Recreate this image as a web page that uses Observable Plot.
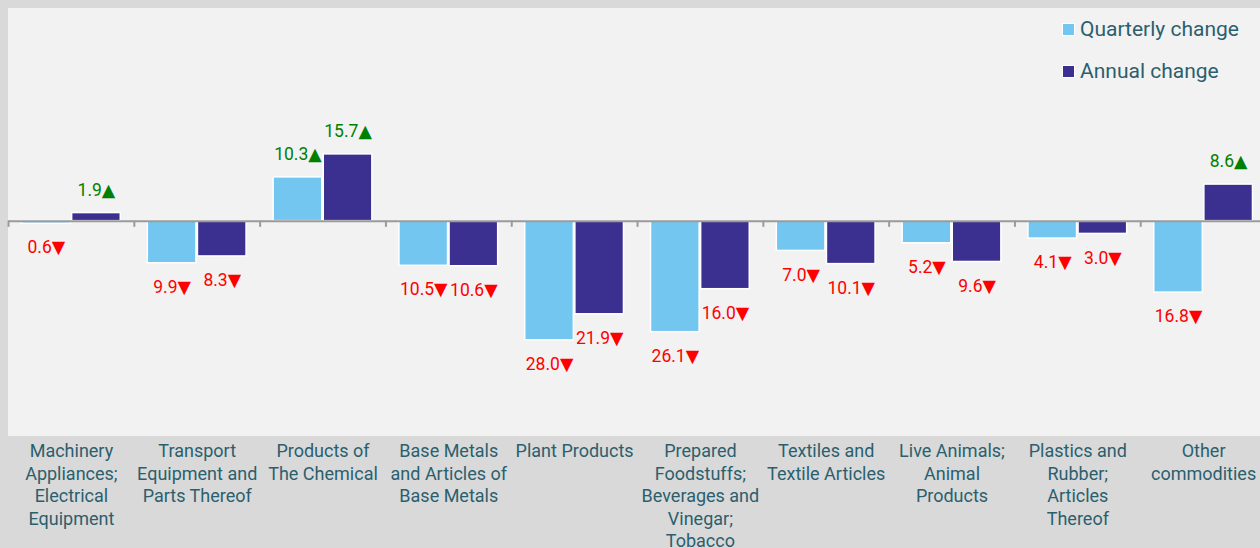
<!DOCTYPE html>
<html>
<head>
<meta charset="utf-8">
<script src="https://cdn.jsdelivr.net/npm/d3@7"></script>
<script src="https://cdn.jsdelivr.net/npm/@observablehq/plot@0.6"></script>
<style>
  html, body { margin: 0; padding: 0; background: #d9d9d9; }
  #wrap { position: relative; width: 1260px; height: 548px; background: #d9d9d9; overflow: hidden; font-family: Roboto, "DejaVu Sans", sans-serif; }
  #legend { position: absolute; left: 1062px; top: 14px; color: #2b5f6e; font-size: 21px; }
  .item { display: flex; align-items: center; height: 30px; margin-bottom: 12px; }
  .sw { width: 11px; height: 11px; border: 1.5px solid #fff; margin-right: 5px; }
</style>
</head>
<body>
<div id="wrap"><div id="legend"></div></div>
<script>
const categories = [
  "Machinery Appliances; Electrical Equipment",
  "Transport Equipment and Parts Thereof",
  "Products of The Chemical",
  "Base Metals and Articles of Base Metals",
  "Plant Products",
  "Prepared Foodstuffs; Beverages and Vinegar; Tobacco",
  "Textiles and Textile Articles",
  "Live Animals; Animal Products",
  "Plastics and Rubber; Articles Thereof",
  "Other commodities"
];
const categoryLabels = [
  "Machinery\nAppliances;\nElectrical\nEquipment",
  "Transport\nEquipment and\nParts Thereof",
  "Products of\nThe Chemical",
  "Base Metals\nand Articles of\nBase Metals",
  "Plant Products",
  "Prepared\nFoodstuffs;\nBeverages and\nVinegar;\nTobacco",
  "Textiles and\nTextile Articles",
  "Live Animals;\nAnimal\nProducts",
  "Plastics and\nRubber;\nArticles\nThereof",
  "Other\ncommodities"
];
const seriesNames = ["Quarterly change", "Annual change"];
const seriesColors = ["#73c6ef", "#3b2f8f"];
const quarterly = [-0.6, -9.9, 10.3, -10.5, -28.0, -26.1, -7.0, -5.2, -4.1, -16.8];
const annual = [1.9, -8.3, 15.7, -10.6, -21.9, -16.0, -10.1, -9.6, -3.0, 8.6];

const data = [];
categories.forEach((c, i) => {
  data.push({category: c, series: seriesNames[0], value: quarterly[i]});
  data.push({category: c, series: seriesNames[1], value: annual[i]});
});
const labelOf = new Map(categories.map((c, i) => [c, categoryLabels[i]]));
const fmt = d => Math.abs(d.value).toFixed(1) + (d.value < 0 ? "▼" : "▲");

const teal = "#2b5f6e";
const font = "Roboto, 'DejaVu Sans', sans-serif";
const chart = Plot.plot({
  width: 1260,
  height: 548,
  marginLeft: 8,
  marginRight: 0,
  marginTop: 8,
  marginBottom: 113,
  style: {background: "transparent", fontFamily: font, overflow: "visible"},
  fx: {domain: categories, padding: 0, label: null, range: [8, 1266], round: false},
  x: {domain: seriesNames, paddingInner: 0.03, paddingOuter: 0.27, axis: null, round: false},
  y: {domain: [-50.4, 50], axis: null},
  color: {domain: seriesNames, range: seriesColors},
  marks: [
    Plot.frame({fill: "#f2f2f2", stroke: "#f2f2f2", strokeWidth: 1}),
    Plot.barY(data, {fx: "category", x: "series", y: "value", fill: "series", stroke: "#fff", strokeWidth: 1.5}),
    Plot.ruleY([0], {stroke: "#9a9a9a", strokeWidth: 2}),
    Plot.ruleX(categories, {fx: d => d, x: () => seriesNames[0], dx: -37.8, y1: 0, y2: -1.45, stroke: "#9a9a9a", strokeWidth: 2}),
    Plot.text(data.filter(d => d.value >= 0), {fx: "category", x: "series", y: "value", text: fmt, dy: -23, fill: "#008000", fontSize: 17.5, fontFamily: font}),
    Plot.text(data.filter(d => d.value < 0), {fx: "category", x: "series", y: "value", text: fmt, dy: 24, fill: "#ff0000", fontSize: 17.5, fontFamily: font}),
    Plot.axisFx({anchor: "bottom", tickSize: 0, tickPadding: 6, label: null, tickFormat: c => labelOf.get(c), fill: teal, fontSize: 18, lineHeight: 1.25, lineAnchor: "top"})
  ]
});
document.getElementById("wrap").appendChild(chart);

const legend = document.getElementById("legend");
seriesNames.forEach((s, i) => {
  const item = document.createElement("div");
  item.className = "item";
  const sw = document.createElement("span");
  sw.className = "sw";
  sw.style.background = seriesColors[i];
  const t = document.createElement("span");
  t.textContent = s;
  item.appendChild(sw);
  item.appendChild(t);
  legend.appendChild(item);
});
</script>
</body>
</html>
